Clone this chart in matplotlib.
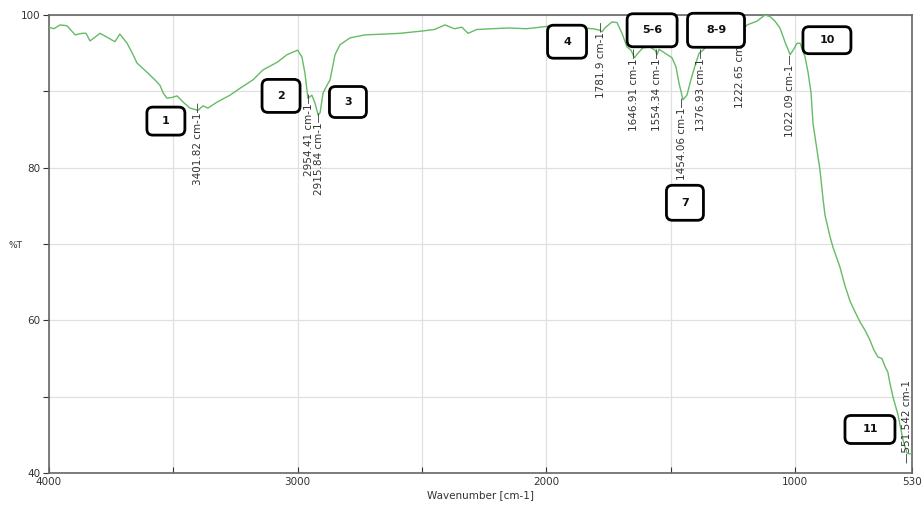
import numpy as np
import matplotlib.pyplot as plt
from matplotlib.patches import FancyBboxPatch
from matplotlib.transforms import ScaledTranslation

# IR spectrum (wavenumber in cm-1, %T)
wavenumber = [4000, 3980, 3956, 3928, 3895, 3867, 3851, 3835, 3795, 3767,
              3735, 3715, 3686, 3662, 3646, 3606, 3574, 3554, 3541, 3526,
              3505, 3485, 3461, 3433, 3401, 3381, 3361, 3324, 3272, 3232,
              3180, 3140, 3083, 3043, 3000, 2983, 2971, 2959, 2954, 2943,
              2931, 2918, 2910, 2898, 2882, 2870, 2850, 2830, 2790, 2730,
              2650, 2589, 2500, 2450, 2408, 2370, 2340, 2315, 2280, 2220,
              2150, 2080, 2026, 1945, 1865,
              1812, 1785, 1776, 1765, 1736, 1716, 1696, 1676, 1660, 1646,
              1632, 1612, 1584, 1563, 1555, 1547, 1523, 1495, 1479, 1467,
              1451, 1435, 1419, 1402, 1386, 1370, 1362, 1330, 1290, 1250,
              1235, 1222, 1210, 1193, 1153, 1121, 1101, 1081, 1061, 1041,
              1020, 1008, 992, 980, 960, 948, 936, 928, 912, 900,
              888, 880, 860, 848, 820, 800, 779, 759, 739, 719,
              699, 683, 667, 651, 639, 627, 619, 606, 586, 566,
              550, 540, 530]
transmittance = [98.4, 98.2, 98.7, 98.6, 97.4, 97.6, 97.6, 96.6, 97.6, 97.1,
                 96.5, 97.5, 96.3, 94.8, 93.7, 92.5, 91.5, 90.8, 89.8, 89.1,
                 89.2, 89.4, 88.6, 87.8, 87.5, 88.1, 87.8, 88.6, 89.5, 90.4,
                 91.5, 92.8, 93.8, 94.8, 95.4, 94.5, 92.4, 89.1, 89.2, 89.5,
                 88.5, 86.9, 87.2, 89.8, 90.8, 91.5, 94.8, 96.1, 97.0, 97.4,
                 97.5, 97.6, 97.9, 98.1, 98.7, 98.2, 98.4, 97.6, 98.1, 98.2,
                 98.3, 98.2, 98.4, 98.7, 98.3,
                 98.2, 98.0, 97.8, 98.3, 99.1, 99.0, 97.6, 95.8, 95.4, 94.4,
                 95.0, 95.7, 95.8, 95.4, 94.8, 95.5, 95.0, 94.4, 93.2, 91.1,
                 88.9, 89.5, 91.5, 93.4, 95.0, 95.4, 95.7, 97.0, 97.8, 98.3,
                 98.1, 97.7, 98.1, 98.7, 99.2, 100.0, 99.8, 99.2, 98.3, 96.5,
                 94.8, 95.4, 96.3, 96.3, 94.5, 92.5, 89.8, 85.8, 82.3, 79.7,
                 76.0, 73.8, 71.0, 69.6, 67.0, 64.6, 62.5, 61.1, 59.8, 58.7,
                 57.4, 56.1, 55.2, 55.0, 54.0, 53.2, 51.8, 49.9, 47.6, 44.3,
                 42.6, 42.5, 42.6]

# peak picks
peak_wn = [3401.82, 2954.41, 2915.84, 1781.9, 1646.91, 1554.34,
           1454.06, 1376.93, 1222.65, 1022.09, 551.542]
peak_text = ['3401.82', '2954.41', '2915.84', '1781.9', '1646.91', '1554.34',
             '1454.06', '1376.93', '1222.65', '1022.09', '551.542']
peak_label_top = [88.6, 89.8, 87.3, 99.1, 95.7, 95.7, 89.3, 95.7, 98.7, 94.8]
last_label_bottom = 41.3

# numbered boxes (anchor in data units, size in pixels)
box_text = ['1', '2', '3', '4', '5-6', '7', '8-9', '10', '11']
box_wn = [3530, 3067, 2798, 1917, 1575, 1443, 1318, 872, 699]
box_T = [86.1, 89.4, 88.6, 96.5, 98.0, 75.4, 98.0, 96.7, 45.7]
box_w = [38, 38, 37, 39, 50, 37, 57, 48, 50]
box_h = [28, 33, 31, 33, 33, 35, 34, 27, 28]

fig = plt.figure(figsize=(9.22, 5.08), dpi=100)
ax = fig.add_axes([49 / 922, 1 - 473 / 508, (912 - 49) / 922, (473 - 15) / 508])

ax.plot(wavenumber, transmittance, color='#66bb66', lw=1.0, zorder=3)

ax.set_xlim(4000, 530)
ax.set_ylim(40, 100)

xt = [4000, 3500, 3000, 2500, 2000, 1500, 1000, 530]
ax.set_xticks(xt)
ax.set_xticklabels(['4000', '', '3000', '', '2000', '', '1000', '530'])
yt = [40, 50, 60, 70, 80, 90, 100]
ax.set_yticks(yt)
ax.set_yticklabels(['40', '', '60', '', '80', '', '100'])
ax.tick_params(axis='x', direction='in', length=4, labelsize=7.5,
               colors='#333333', pad=3)
ax.tick_params(axis='y', direction='out', length=4, labelsize=7.5,
               colors='#333333', pad=2)
ax.grid(True, color='#e0e0e0', linestyle='-', lw=0.9, zorder=0)
for s in ax.spines.values():
    s.set_color('#666666')
    s.set_linewidth(1.2)

ax.set_xlabel('Wavenumber [cm-1]', fontsize=7.5, color='#333333', labelpad=2)
fig.text(8 / 922, 1 - 245 / 508, '%T', fontsize=6.5, color='#333333',
         va='center', ha='left')

# peak labels
for wn, txt, top in zip(peak_wn[:-1], peak_text[:-1], peak_label_top):
    ax.text(wn, top, f'{txt} cm-1\u2014', rotation=90, ha='center', va='top',
            fontsize=7.5, color='#333333', zorder=4)
ax.text(peak_wn[-1], last_label_bottom, f'\u2014{peak_text[-1]} cm-1',
        rotation=90, ha='center', va='bottom', fontsize=7.5,
        color='#333333', zorder=4)

# numbered boxes
for txt, wn, t, w, h in zip(box_text, box_wn, box_T, box_w, box_h):
    tr = fig.dpi_scale_trans + ScaledTranslation(wn, t, ax.transData)
    w_in, h_in = w / 100, h / 100
    box = FancyBboxPatch((-w_in / 2, -h_in / 2), w_in, h_in,
                         boxstyle='round,pad=0,rounding_size=0.06',
                         transform=tr, facecolor='white', edgecolor='black',
                         lw=2, zorder=5, clip_on=False)
    ax.add_patch(box)
    ax.text(wn, t, txt, ha='center', va='center', fontsize=8,
            fontweight='bold', color='#111111', zorder=6)

fig.savefig('out.png', dpi=100)
